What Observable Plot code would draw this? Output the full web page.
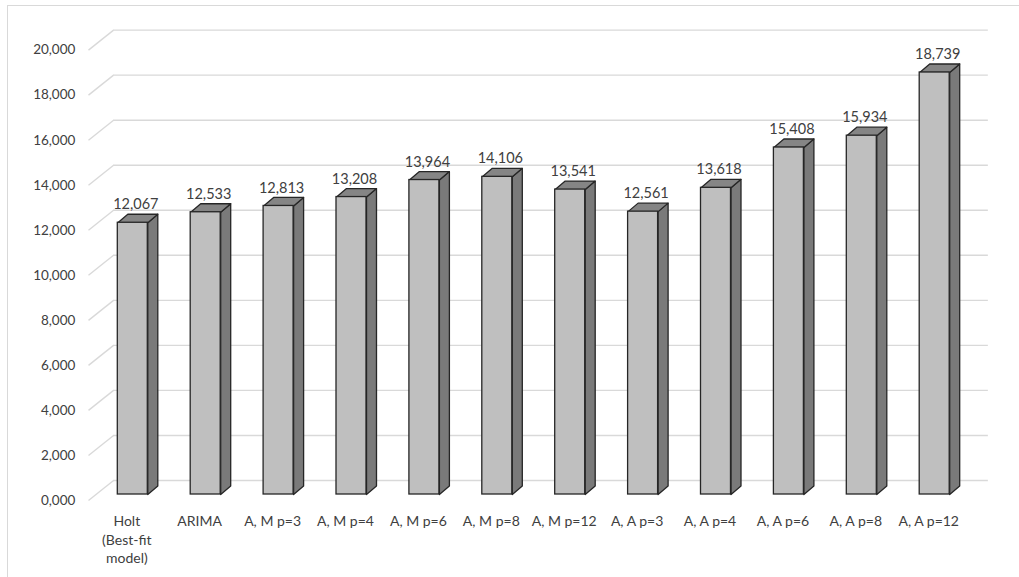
<!DOCTYPE html>
<html>
<head>
<meta charset="utf-8">
<script src="https://cdn.jsdelivr.net/npm/d3@7"></script>
<script src="https://cdn.jsdelivr.net/npm/@observablehq/plot@0.6"></script>
<style>
  html, body { margin: 0; padding: 0; background: #fff; overflow: hidden; }
  #frame { position: absolute; left: 7px; top: 5px; width: 1100px; height: 700px;
           border-left: 1.5px solid #d9d9d9; border-top: 1.5px solid #d9d9d9; box-sizing: border-box; }
  #chart { position: absolute; left: 0; top: 0; }
</style>
</head>
<body>
<div id="frame"></div>
<div id="chart"></div>
<script>
// Forecast error by model (3D-style columns)
const models = [
  "Holt\n(Best-fit\nmodel)", "ARIMA", "A, M p=3", "A, M p=4", "A, M p=6", "A, M p=8",
  "A, M p=12", "A, A p=3", "A, A p=4", "A, A p=6", "A, A p=8", "A, A p=12"
];
const errors = [12067, 12533, 12813, 13208, 13964, 14106, 13541, 12561, 13618, 15408, 15934, 18739];
const yTicks = [0, 2000, 4000, 6000, 8000, 10000, 12000, 14000, 16000, 18000, 20000];
const yTickLabels = ["0,000", "2,000", "4,000", "6,000", "8,000", "10,000", "12,000", "14,000", "16,000", "18,000", "20,000"];

// Layout
const W = 1019, H = 577;
const mL = 95.85, mR = 48.35, mT = 43.6, mB = 83;
const xDomain = [-0.5, models.length - 0.5];
const yDomain = [0, 20000];
const kx = (W - mL - mR) / (xDomain[1] - xDomain[0]); // px per category
const ky = (H - mT - mB) / (yDomain[1] - yDomain[0]); // px per unit

// Depth of the columns and of the floor/wall, in pixels
const barHalf = 15 / kx;
const depthX = 10 / kx, depthY = 8.5 / ky;
const wallFrontX = -7.85 / kx, wallFrontY = -6 / ky;
const wallBackX = 17.2 / kx, wallBackY = 14 / ky;

// Faces of every column as closed polygons
const sideFaces = [], topFaces = [];
errors.forEach((v, i) => {
  const l = i - barHalf, r = i + barHalf;
  [[r, 0], [r + depthX, depthY], [r + depthX, v + depthY], [r, v], [r, 0]]
    .forEach(([x, y]) => sideFaces.push({i, x, y}));
  [[l, v], [l + depthX, v + depthY], [r + depthX, v + depthY], [r, v], [l, v]]
    .forEach(([x, y]) => topFaces.push({i, x, y}));
});
const bars = errors.map((v, i) => ({i, v}));
const grid = yTicks.map(t => ({t}));

const edge = "#262626";

const chart = Plot.plot({
  width: W, height: H,
  marginLeft: mL, marginRight: mR, marginTop: mT, marginBottom: mB,
  style: {fontFamily: "Lato", fontSize: "14px", color: "#404040", background: "transparent", overflow: "visible"},
  x: {domain: xDomain},
  y: {domain: yDomain},
  marks: [
    // back wall gridlines and their slant along the side wall
    Plot.link(grid, {
      x1: xDomain[0] + wallFrontX, y1: d => d.t + wallFrontY,
      x2: xDomain[0] + wallBackX, y2: d => d.t + wallBackY,
      stroke: "#d9d9d9", strokeWidth: 1.4
    }),
    Plot.ruleY(yTicks, {dx: 17.2, dy: -14, stroke: "#d9d9d9", strokeWidth: 1.4}),
    // columns
    Plot.line(sideFaces, {x: "x", y: "y", z: "i", fill: "#7a7a7a", stroke: edge, strokeWidth: 1.3, strokeLinejoin: "round"}),
    Plot.line(topFaces, {x: "x", y: "y", z: "i", fill: "#858585", stroke: edge, strokeWidth: 1.3, strokeLinejoin: "round"}),
    Plot.rectY(bars, {x1: d => d.i - barHalf, x2: d => d.i + barHalf, y1: 0, y2: "v",
      fill: "#bfbfbf", stroke: edge, strokeWidth: 1.3}),
    // value labels
    Plot.text(bars, {x: "i", y: "v", text: d => d3.format(",")(d.v), dx: 3, dy: -18,
      fontSize: 14.5, fill: "#404040"}),
    // axes
    Plot.axisY(yTicks, {tickSize: 0, tickPadding: 21, dy: 6, fontSize: 13.5, fill: "#404040",
      tickFormat: (d, i) => yTickLabels[yTicks.indexOf(d)], label: null}),
    Plot.axisX(d3.range(models.length), {tickSize: 0, tickPadding: 18.5, dx: -6, fontSize: 14, fill: "#404040",
      lineHeight: 1.33, tickFormat: d => models[d], label: null})
  ]
});
document.getElementById("chart").appendChild(chart);
</script>
</body>
</html>
